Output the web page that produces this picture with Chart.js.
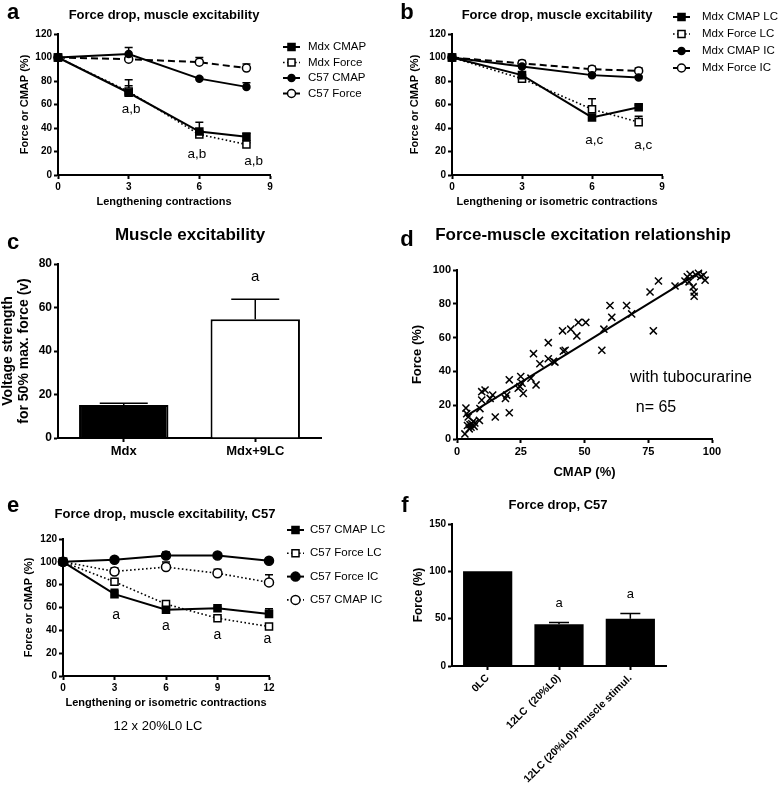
<!DOCTYPE html>
<html>
<head>
<meta charset="utf-8">
<script src="https://cdn.jsdelivr.net/npm/chart.js@4.4.1/dist/chart.umd.min.js"></script>
<style>
	body { margin: 0; background: #fff; width: 778px; height: 788px; position: relative; overflow: hidden; font-family: "Liberation Sans", Arial, sans-serif; color: #000; }
	canvas { position: absolute; }
	.t { position: absolute; white-space: nowrap; transform: translate(-50%, -50%); }
	.b { font-weight: bold; }
</style>
</head>
<body>

<canvas id="ca" width="389" height="225" style="left:0;top:0"></canvas>
<canvas id="cb" width="389" height="225" style="left:389px;top:0"></canvas>
<canvas id="cc" width="389" height="275" style="left:0;top:225px"></canvas>
<canvas id="cd" width="389" height="275" style="left:389px;top:225px"></canvas>
<canvas id="ce" width="389" height="288" style="left:0;top:500px"></canvas>
<canvas id="cf" width="389" height="288" style="left:389px;top:500px"></canvas>

<div class="t b" style="left:13px;top:12px;font-size:22px">a</div>
<div class="t b" style="left:164px;top:14px;font-size:13px">Force drop, muscle excitability</div>
<div class="t b" style="left:407px;top:12px;font-size:22px">b</div>
<div class="t b" style="left:557px;top:14px;font-size:13px">Force drop, muscle excitability</div>
<div class="t b" style="left:13px;top:242px;font-size:22px">c</div>
<div class="t b" style="left:190px;top:235px;font-size:17px">Muscle excitability</div>
<div class="t b" style="left:407px;top:239px;font-size:22px">d</div>
<div class="t b" style="left:583px;top:235px;font-size:17px">Force-muscle excitation relationship</div>
<div class="t" style="left:691px;top:377px;font-size:16px">with tubocurarine</div>
<div class="t" style="left:656px;top:407px;font-size:16px">n= 65</div>
<div class="t b" style="left:13px;top:505px;font-size:22px">e</div>
<div class="t b" style="left:165px;top:513px;font-size:13px">Force drop, muscle excitability, C57</div>
<div class="t" style="left:158px;top:725px;font-size:13px">12 x 20%L0 LC</div>
<div class="t b" style="left:405px;top:505px;font-size:22px">f</div>
<div class="t b" style="left:558px;top:504px;font-size:13px">Force drop, C57</div>

<script>
// a: Mdx, lengthening contractions
var aX = [0, 3, 6, 8];
var aMdxCmap = [100, 70, 37, 32.5];
var aMdxCmapErr = [0, 11, 8, 3];
var aMdxForce = [100, 71, 34.5, 26];
var aMdxForceErr = [0, 5, 1.5, 1.5];
var aC57Cmap = [100, 103, 82, 75];
var aC57CmapErr = [0, 5.5, 1, 3.5];
var aC57Force = [100, 98.6, 96, 91];
var aC57ForceErr = [0, 1, 4, 3.5];
var aNotes = [[3.1, 56, 'a,b'], [5.9, 18, 'a,b'], [8.3, 12, 'a,b']];

// b: Mdx, lengthening vs isometric
var bX = [0, 3, 6, 8];
var bCmapLC = [100, 85, 49, 57.6];
var bCmapLCErr = [0, 7, 2, 2];
var bForceLC = [100, 82, 56, 45];
var bForceLCErr = [0, 1, 9, 5];
var bCmapIC = [100, 92.4, 85, 83];
var bCmapICErr = [0, 1, 1, 1];
var bForceIC = [100, 95, 90, 88.6];
var bForceICErr = [0, 2.5, 2.5, 2.5];
var bNotes = [[6.1, 29.6, 'a,c'], [8.2, 25.4, 'a,c']];

// c: voltage for 50% max force
var cLabels = ['Mdx', 'Mdx+9LC'];
var cValues = [15.2, 54.6];
var cErr = [0.8, 9.2];
var cNotes = [[1, 74, 'a']];

// d: force vs CMAP scatter
var dCmap = [3.5, 3.8, 4.4, 4.1, 5.1, 5.8, 6.4, 6.7, 4.8, 3.1, 5.5, 7, 8.8, 9, 9.7, 9.7, 11, 14, 13, 15,
	19, 19.5, 20.5, 20.5, 24, 24.7, 25, 25.5, 26, 29, 30, 31, 32.5, 35.8, 35.8, 37.8, 38.4, 41.7, 41.4, 42.4,
	44.6, 47.6, 47, 50.5, 56.8, 57.6, 60, 60.7, 66.5, 68.5, 75.7, 79, 77, 85.5, 89.4, 90.3, 91, 91.4, 92.6, 93,
	93, 93.7, 94.7, 95.6, 96.6, 97.3];
var dForce = [18.3, 15, 13, 8, 8.5, 9, 10.5, 7.5, 6, 3, 7, 9.5, 11, 18, 23, 28, 29, 26, 24, 13,
	24, 26, 15.5, 35, 30, 31, 37, 33, 27, 36, 50.5, 32, 44.5, 57, 47.5, 46, 45.5, 52, 64, 52.5,
	65, 69, 61, 69, 52.5, 65, 79, 72, 79, 74, 87, 93.5, 64, 90.5, 93.5, 96, 93, 97.5, 90, 87,
	84.5, 97, 98, 96, 97, 94];
var dFitX = [3.5, 96];
var dFitY = [13.5, 99.5];

// e: C57, lengthening vs isometric
var eX = [0, 3, 6, 9, 12];
var eCmapLC = [100, 71.7, 58, 59.4, 54.4];
var eCmapLCErr = [0, 4.3, 1.5, 1, 4.4];
var eForceLC = [100, 82.5, 63, 50.6, 43.3];
var eForceLCErr = [0, 1, 1, 1, 1];
var eForceIC = [100, 101.8, 105.6, 105.6, 101];
var eForceICErr = [0, 1, 3, 1, 1];
var eCmapIC = [100, 91.6, 95.4, 90, 82];
var eCmapICErr = [0, 2.9, 4.4, 3.6, 6.7];
var eNotes = [[3.1, 53, 'a'], [6, 44, 'a'], [9, 36, 'a'], [11.9, 32, 'a']];

// f: C57 force drop
var fLabels = ['0LC', '12LC  (20%L0)', '12LC (20%L0)+muscle stimul.'];
var fValues = [100, 44, 50];
var fErr = [0, 2, 5.5];
var fNotes = [[1, 66.5, 'a'], [2, 76, 'a']];

var FONT = '"Liberation Sans", Arial, sans-serif';
Chart.defaults.font.family = FONT;
Chart.defaults.color = '#000';
Chart.defaults.animation = false;

var SOLID = { borderWidth: 2, borderDash: [] };
var DOTTED = { borderWidth: 1.6, borderDash: [1.6, 2.4] };
var DASHED = { borderWidth: 2, borderDash: [7, 4] };

function drawMarker(ctx, style, x, y, r, fill) {
	ctx.beginPath();
	if (style === 'rect') {
		var s = r * Math.SQRT1_2;
		ctx.rect(x - s, y - s, 2 * s, 2 * s);
	} else {
		ctx.arc(x, y, r, 0, Math.PI * 2);
	}
	ctx.fillStyle = fill;
	ctx.fill();
	ctx.lineWidth = 1.5;
	ctx.strokeStyle = '#000';
	ctx.stroke();
}

// error bars (upper only, GraphPad style)
function errorBars(cap) {
	return {
		id: 'errorBars',
		beforeDatasetsDraw: function(chart) {
			var ctx = chart.ctx, ys = chart.scales.y;
			ctx.save();
			ctx.strokeStyle = '#000';
			ctx.lineWidth = 1.5;
			chart.data.datasets.forEach(function(ds, i) {
				if (!ds.errors) return;
				chart.getDatasetMeta(i).data.forEach(function(el, j) {
					var err = ds.errors[j];
					if (!err) return;
					var v = typeof ds.data[j] === 'object' ? ds.data[j].y : ds.data[j];
					var y0 = ys.getPixelForValue(v), y1 = ys.getPixelForValue(v + err);
					ctx.beginPath();
					ctx.moveTo(el.x, y0); ctx.lineTo(el.x, y1);
					ctx.moveTo(el.x - cap / 2, y1); ctx.lineTo(el.x + cap / 2, y1);
					ctx.stroke();
				});
			});
			ctx.restore();
		}
	};
}

function notes(items, size) {
	return {
		id: 'notes',
		afterDatasetsDraw: function(chart) {
			var ctx = chart.ctx;
			ctx.save();
			ctx.font = size + 'px ' + FONT;
			ctx.fillStyle = '#000';
			ctx.textAlign = 'center';
			ctx.textBaseline = 'middle';
			items.forEach(function(n) {
				ctx.fillText(n[2], chart.scales.x.getPixelForValue(n[0]), chart.scales.y.getPixelForValue(n[1]));
			});
			ctx.restore();
		}
	};
}

function lineLegend(x0, y0, step, textX) {
	return {
		id: 'lineLegend',
		afterDraw: function(chart) {
			var ctx = chart.ctx;
			chart.data.datasets.forEach(function(ds, i) {
				var y = y0 + i * step;
				ctx.save();
				ctx.strokeStyle = '#000';
				ctx.lineWidth = ds.borderWidth;
				ctx.setLineDash(ds.borderDash);
				ctx.beginPath(); ctx.moveTo(x0, y); ctx.lineTo(x0 + 17, y); ctx.stroke();
				ctx.setLineDash([]);
				drawMarker(ctx, ds.pointStyle, x0 + 8.5, y, ds.pointRadius, ds.pointBackgroundColor);
				ctx.font = '11.5px ' + FONT;
				ctx.fillStyle = '#000';
				ctx.textBaseline = 'middle';
				ctx.fillText(ds.label, textX, y);
				ctx.restore();
			});
		}
	};
}

function $extend(a, b) { for (var k in b) a[k] = b[k]; return a; }

function series(label, xs, ys, errs, line, marker, r, fill) {
	return $extend({
		label: label,
		data: xs.map(function(x, i) { return { x: x, y: ys[i] }; }),
		errors: errs,
		borderColor: '#000',
		pointStyle: marker,
		pointRadius: r,
		pointBackgroundColor: fill,
		pointBorderColor: '#000',
		pointBorderWidth: 1.5,
		tension: 0,
		clip: false
	}, line);
}

function yScale(min, max, step, width, tickSize, title, titleSize, titleX, lineH) {
	var lh = lineH || 1.2;
	return {
		type: 'linear', min: min, max: max,
		ticks: { stepSize: step, padding: 2, font: { size: tickSize, weight: 'bold' } },
		grid: { drawOnChartArea: false, tickLength: 4, tickWidth: 2, tickColor: '#000' },
		border: { color: '#000', width: 2 },
		title: { display: true, text: title, font: { size: titleSize, weight: 'bold', lineHeight: lh }, padding: { top: titleX - titleSize * lh / 2, bottom: 0 } },
		afterFit: function(s) { s.width = width; }
	};
}

function xLinear(min, max, step, height, tickSize, title, titleSize) {
	return {
		type: 'linear', min: min, max: max,
		ticks: { stepSize: step, padding: 2, font: { size: tickSize, weight: 'bold' } },
		grid: { drawOnChartArea: false, tickLength: 4, tickWidth: 2, tickColor: '#000' },
		border: { color: '#000', width: 2 },
		title: { display: !!title, text: title, font: { size: titleSize, weight: 'bold' }, padding: 0 },
		afterFit: function(s) { s.height = height; }
	};
}

function xCategory(height, tickSize, rot) {
	return {
		type: 'category',
		ticks: { padding: 2, autoSkip: false, minRotation: rot, maxRotation: rot, font: { size: tickSize, weight: 'bold' } },
		grid: { offset: false, drawOnChartArea: false, tickLength: 4, tickWidth: 2, tickColor: '#000' },
		border: { color: '#000', width: 2 },
		afterFit: function(s) { s.height = height; }
	};
}

// canvas W x H, chart area top T, right R, bottom B, x-axis height xH
function pad(W, H, T, R, B, xH) {
	return { padding: { left: 0, top: T, right: W - R, bottom: H - B - xH } };
}

var quiet = { legend: { display: false }, tooltip: { enabled: false } };

new Chart(document.getElementById('ca'), {
	type: 'line',
	data: { datasets: [
		series('Mdx CMAP', aX, aMdxCmap, aMdxCmapErr, SOLID, 'rect', 5, '#000'),
		series('Mdx Force', aX, aMdxForce, aMdxForceErr, DOTTED, 'rect', 5, '#fff'),
		series('C57 CMAP', aX, aC57Cmap, aC57CmapErr, SOLID, 'circle', 3.5, '#000'),
		series('C57 Force', aX, aC57Force, aC57ForceErr, DASHED, 'circle', 4, '#fff')
	] },
	options: {
		responsive: false,
		layout: pad(389, 225, 34, 270, 175, 34),
		plugins: quiet,
		scales: {
			x: xLinear(0, 9, 3, 34, 10, 'Lengthening contractions', 11),
			y: yScale(0, 120, 20, 58, 10, 'Force or CMAP (%)', 11, 25)
		}
	},
	plugins: [errorBars(8), notes(aNotes, 13.5), lineLegend(283, 47, 15.5, 308)]
});

new Chart(document.getElementById('cb'), {
	type: 'line',
	data: { datasets: [
		series('Mdx CMAP LC', bX, bCmapLC, bCmapLCErr, SOLID, 'rect', 5, '#000'),
		series('Mdx Force LC', bX, bForceLC, bForceLCErr, DOTTED, 'rect', 5, '#fff'),
		series('Mdx CMAP IC', bX, bCmapIC, bCmapICErr, SOLID, 'circle', 3.5, '#000'),
		series('Mdx Force IC', bX, bForceIC, bForceICErr, DASHED, 'circle', 4, '#fff')
	] },
	options: {
		responsive: false,
		layout: pad(389, 225, 34, 273, 175, 34),
		plugins: quiet,
		scales: {
			x: xLinear(0, 9, 3, 34, 10, 'Lengthening or isometric contractions', 11),
			y: yScale(0, 120, 20, 63, 10, 'Force or CMAP (%)', 11, 26)
		}
	},
	plugins: [errorBars(8), notes(bNotes, 13.5), lineLegend(284, 17, 17, 313)]
});

new Chart(document.getElementById('cc'), {
	type: 'bar',
	data: {
		labels: cLabels,
		datasets: [{
			data: cValues,
			errors: cErr,
			backgroundColor: ['#000', '#fff'],
			borderColor: '#000',
			borderWidth: 2,
			categoryPercentage: 1,
			barPercentage: 0.68
		}]
	},
	options: {
		responsive: false,
		layout: pad(389, 275, 39, 321, 213, 30),
		plugins: quiet,
		scales: {
			x: xCategory(30, 13, 0),
			y: yScale(0, 80, 20, 58, 12, ['Voltage strength', 'for 50% max. force (v)'], 14, 8, 1.15)
		}
	},
	plugins: [errorBars(48), notes(cNotes, 15)]
});

new Chart(document.getElementById('cd'), {
	type: 'scatter',
	data: { datasets: [
		{
			data: dCmap.map(function(x, i) { return { x: x, y: dForce[i] }; }),
			pointStyle: 'crossRot',
			pointRadius: 5,
			borderColor: '#000',
			borderWidth: 1.5,
			clip: false
		},
		{
			type: 'line',
			data: dFitX.map(function(x, i) { return { x: x, y: dFitY[i] }; }),
			borderColor: '#000',
			borderWidth: 2,
			pointRadius: 0,
			clip: false
		}
	] },
	options: {
		responsive: false,
		layout: pad(389, 275, 45, 323, 214, 41),
		plugins: quiet,
		scales: {
			x: xLinear(0, 100, 25, 41, 11, 'CMAP (%)', 13),
			y: yScale(0, 100, 20, 68, 11, 'Force (%)', 13, 28)
		}
	}
});

new Chart(document.getElementById('ce'), {
	type: 'line',
	data: { datasets: [
		series('C57 CMAP LC', eX, eCmapLC, eCmapLCErr, SOLID, 'rect', 5, '#000'),
		series('C57 Force LC', eX, eForceLC, eForceLCErr, DOTTED, 'rect', 5, '#fff'),
		series('C57 Force IC', eX, eForceIC, eForceICErr, SOLID, 'circle', 4.5, '#000'),
		series('C57 CMAP IC', eX, eCmapIC, eCmapICErr, DOTTED, 'circle', 4.5, '#fff')
	] },
	options: {
		responsive: false,
		layout: pad(389, 288, 39, 269, 176, 34),
		plugins: quiet,
		scales: {
			x: xLinear(0, 12, 3, 34, 10, 'Lengthening or isometric contractions', 11),
			y: yScale(0, 120, 20, 63, 10, 'Force or CMAP (%)', 11, 29)
		}
	},
	plugins: [errorBars(8), notes(eNotes, 14), lineLegend(287, 30, 23.3, 310)]
});

new Chart(document.getElementById('cf'), {
	type: 'bar',
	data: {
		labels: fLabels,
		datasets: [{
			data: fValues,
			errors: fErr,
			backgroundColor: '#000',
			borderColor: '#000',
			borderWidth: 0,
			categoryPercentage: 1,
			barPercentage: 0.69
		}]
	},
	options: {
		responsive: false,
		layout: pad(389, 288, 24, 277, 166, 120),
		plugins: quiet,
		scales: {
			x: xCategory(120, 10.5, 45),
			y: yScale(0, 150, 50, 63, 10, 'Force (%)', 12, 30)
		}
	},
	plugins: [errorBars(20), notes(fNotes, 13)]
});
</script>
</body>
</html>
